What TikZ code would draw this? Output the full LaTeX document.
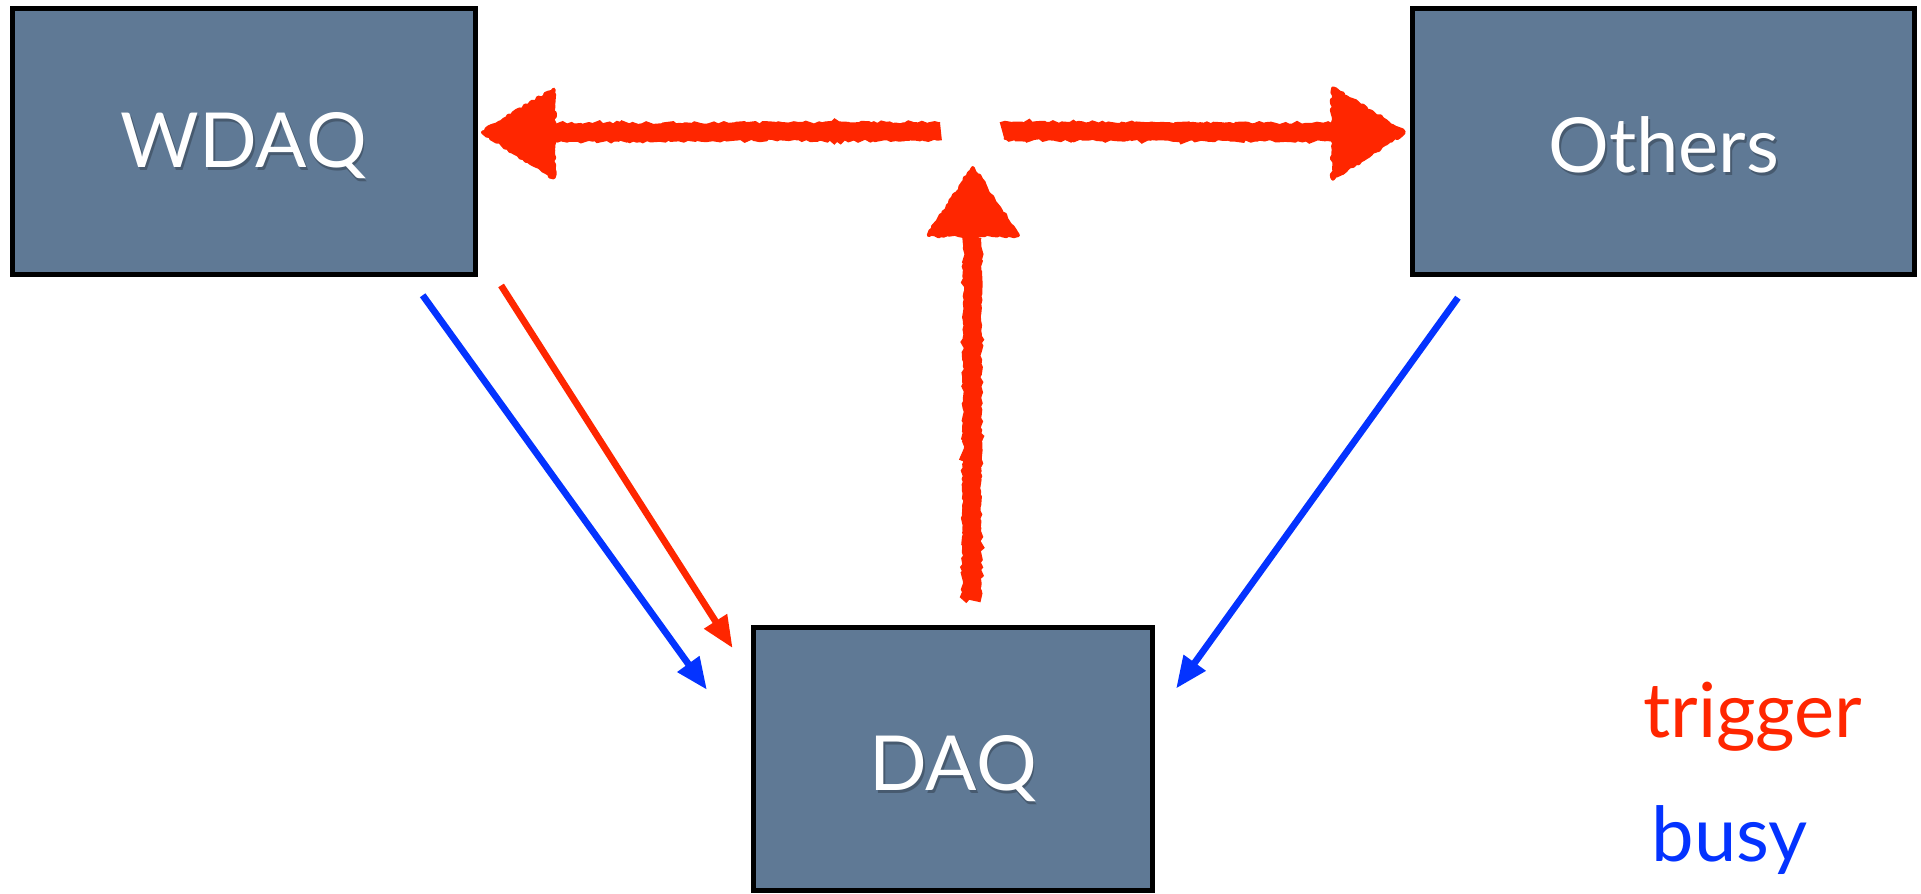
\documentclass[tikz,border=0pt]{standalone}
\usepackage{fontspec}
\setmainfont{Lato}
\usetikzlibrary{arrows.meta,decorations.pathmorphing,calc}
\definecolor{boxfill}{RGB}{95,121,149}
\definecolor{trig}{RGB}{255,38,0}
\definecolor{busyc}{RGB}{4,51,255}
\begin{document}
\begin{tikzpicture}[x=1pt,y=-1pt,
  box/.style={draw=black, line width=4pt, fill=boxfill, inner sep=0pt},
  boxtext/.style={text=white, inner sep=0pt, font=\fontsize{62}{70}\selectfont},
  boxshadow/.style={text=black, opacity=0.25, inner sep=0pt, font=\fontsize{62}{70}\selectfont},
  rough/.style={decorate, decoration={random steps, segment length=2.5pt, amplitude=1.1pt}},
  shaft/.style={draw=trig, line width=15pt, rough},
  bighead/.style={fill=trig, draw=trig, line width=3pt, line join=round, rough},
  thinarrow/.style={line width=5.5pt, -{Triangle[length=26pt,width=21pt]}},
  legend/.style={inner sep=0pt, anchor=base west, font=\fontsize{62}{70}\selectfont}
]
\useasboundingbox (0,0) rectangle (1568,729);
\pgfmathsetseed{7}

% boxes
\node[box, minimum width=378pt, minimum height=217pt] (wdaq) at (199,115.5) {};
\node[box, minimum width=410pt, minimum height=217pt] (others) at (1358,115.5) {};
\node[box, minimum width=326pt, minimum height=215pt] (daq) at (778,619.5) {};

% labels with soft shadow
\node[boxshadow] (wdaqsh) at ($(wdaq.center)+(1.5,5.5)$) {WDAQ};
\node[boxtext] (wdaqtxt) at ($(wdaq.center)+(0,3)$) {WDAQ};
\node[boxshadow] (otherssh) at ($(others.center)+(1.5,5.5)$) {Others};
\node[boxtext] (otherstxt) at ($(others.center)+(0,3)$) {Others};
\node[boxshadow] (daqsh) at ($(daq.center)+(1.5,10.5)$) {DAQ};
\node[boxtext] (daqtxt) at ($(daq.center)+(0,8)$) {DAQ};

% coordinates of thick trigger arrows
\coordinate (hub) at (793,107);
\coordinate (lstart) at (768,107);
\coordinate (lback) at (452,108);
\coordinate (ltip) at (394,108);
\coordinate (rstart) at (818,107);
\coordinate (rback) at (1088,108);
\coordinate (rtip) at (1146,108);
\coordinate (ustart) at (793,490);
\coordinate (uback) at (794,192);
\coordinate (utip) at (794,137);

% thick rough arrows
\draw[shaft] (lstart) -- (lback);
\draw[bighead] (ltip) -- ($(lback)+(0,-35)$) -- ($(lback)+(0,37)$) -- cycle;
\draw[shaft] (rstart) -- (rback);
\draw[bighead] (rtip) -- ($(rback)+(0,-36)$) -- ($(rback)+(0,38)$) -- cycle;
\draw[shaft] (ustart) -- (uback);
\draw[bighead] (utip) -- ($(uback)+(-36,0)$) -- ($(uback)+(37,0)$) -- cycle;

% thin arrows
\coordinate (b1s) at (345,241);
\coordinate (b1e) at (577,563);
\coordinate (r1s) at (409,233);
\coordinate (r1e) at (598,529);
\coordinate (b2s) at (1190,243);
\coordinate (b2e) at (960,562);
\draw[thinarrow, busyc] (b1s) -- (b1e);
\draw[thinarrow, trig] (r1s) -- (r1e);
\draw[thinarrow, busyc] (b2s) -- (b2e);

% legend
\node[legend, text=trig] (lgtrig) at (1341,602) {trigger};
\node[legend, text=busyc] (lgbusy) at (1348,703) {busy};
\end{tikzpicture}
\end{document}
